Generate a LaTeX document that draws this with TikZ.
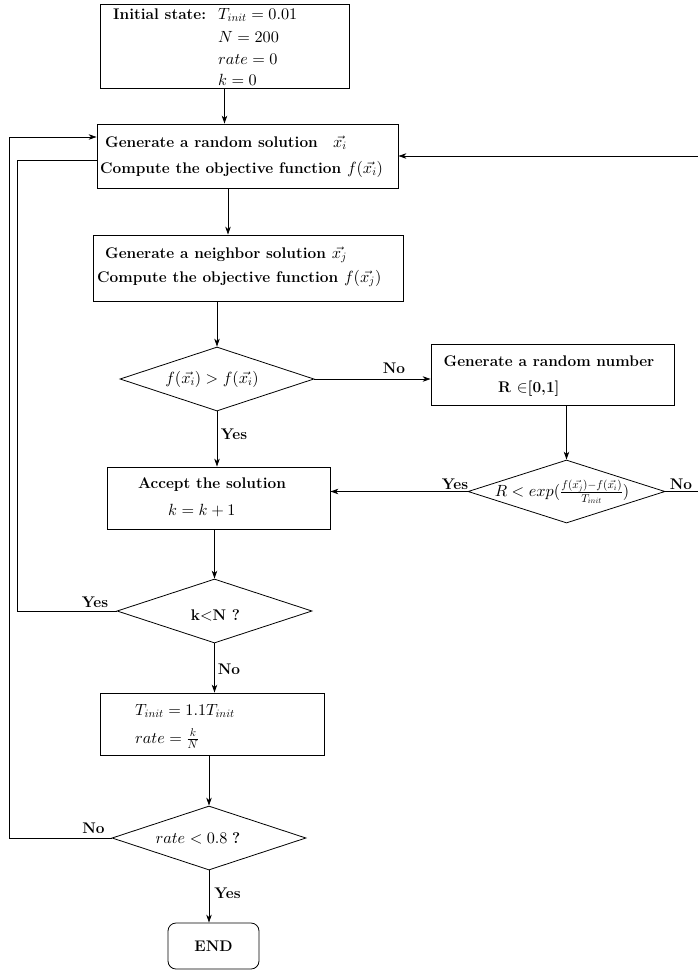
\documentclass[tikz,border=0pt]{standalone}
\DeclareFontShape{OML}{cmm}{m}{it}{<->cmmi10}{}
\DeclareFontShape{OMS}{cmsy}{m}{n}{<->cmsy10}{}
\DeclareFontShape{OT1}{cmr}{m}{n}{<->cmr10}{}
\DeclareMathSizes{15.4}{16.2}{11.3}{8.1}
\usetikzlibrary{shapes.geometric,arrows.meta}
\begin{document}
\begin{tikzpicture}[x=1pt,y=-1pt,
  every node/.style={font=\fontsize{15.4}{18}\selectfont, inner sep=0pt},
  proc/.style={draw, rectangle, line width=0.8pt},
  dec/.style={draw, diamond, line width=0.8pt},
  endbox/.style={draw, rectangle, rounded corners=8pt, line width=0.8pt},
  line/.style={line width=0.8pt},
  arr/.style={line, -{Stealth[length=8pt,width=5.5pt,inset=2.5pt]}},
  lbl/.style={font=\fontsize{15.4}{18}\selectfont\bfseries, anchor=base},
]
\useasboundingbox (0,0) rectangle (697,972);

% shapes
\node[proc, minimum width=249pt, minimum height=84pt] (box1) at (224.5,46) {};
\node[proc, minimum width=301pt, minimum height=64pt] (box2) at (247.5,156) {};
\node[proc, minimum width=310pt, minimum height=66pt] (box3) at (248,268) {};
\node[dec, minimum width=194pt, minimum height=64pt] (d1) at (217,379) {};
\node[proc, minimum width=243pt, minimum height=61pt] (box4) at (552.5,374.5) {};
\node[dec, minimum width=197pt, minimum height=63pt] (d2) at (566.5,491.5) {};
\node[proc, minimum width=223pt, minimum height=62pt] (acc) at (218.5,498) {};
\node[dec, minimum width=195pt, minimum height=64pt] (d3) at (214.5,611) {};
\node[proc, minimum width=224pt, minimum height=62pt] (boxT) at (212,724) {};
\node[dec, minimum width=194pt, minimum height=64pt] (d4) at (209,838) {};
\node[endbox, minimum width=91pt, minimum height=46pt] (endn) at (213.5,946) {};

% texts
\node[anchor=base west] (t0) at (113,19) {\bfseries Initial state:};
\node[anchor=base west] (t1) at (218,19) {$T_{init}=0.01$};
\node[anchor=base west] (t2) at (218,42) {$N=200$};
\node[anchor=base west] (t3) at (218,64) {$rate=0$};
\node[anchor=base west] (t4) at (218,85) {$k=0$};

\node[anchor=base west] (g1) at (105,147) {\bfseries Generate a random solution\quad$\vec{x_i}$};
\node[anchor=base west] (g2) at (100,173) {\bfseries Compute the objective function $f(\vec{x_i})$};

\node[anchor=base west] (h1) at (105,258) {\bfseries Generate a neighbor solution $\vec{x_j}$};
\node[anchor=base west] (h2) at (97,282) {\bfseries Compute the objective function $f(\vec{x_j})$};

\node (q1) at (212,379) {$f(\vec{x_i})>f(\vec{x_i})$};

\node[anchor=base] (r1) at (549,366) {\bfseries Generate a random number};
\node[anchor=base west] (r2) at (498,392) {\bfseries R $\in$[0,1]};

\node (q2) at (562,492) {$R<exp(\frac{f(\vec{x_j})-f(\vec{x_i})}{T_{init}})$};

\node[anchor=base] (a1) at (212,488) {\bfseries Accept the solution};
\node[anchor=base west] (a2) at (168,515) {$k=k+1$};

\node (q3) at (215.5,615) {\bfseries k$<$N ?};

\node[anchor=base west] (s1) at (135,715) {$T_{init}=1.1T_{init}$};
\node[anchor=base west] (s2) at (135,743) {$rate=\frac{k}{N}$};

\node (q4) at (198,838) {$rate<0.8$ \textbf{?}};

\node (e1) at (endn.center) {\bfseries END};

% connectors
\coordinate (c23) at (228,0);
\coordinate (rt) at (700,0);
\coordinate (l1) at (17,160);
\coordinate (l2) at (9.5,137);

\draw[arr] (box1.south) -- (box1.south |- box2.north);
\draw[arr] (box2.south -| c23) -- (box3.north -| c23);
\draw[arr] (box3.south -| d1.north) -- (d1.north);
\draw[arr] (d1.east) -- (d1.east -| box4.west);
\draw[arr] (box4.south -| d2.north) -- (d2.north);
\draw[arr] (d2.west) -- (d2.west -| acc.east);
\draw[arr] (d2.east) -- (d2.east -| rt) -- (rt |- box2.east) -- (box2.east);
\draw[arr] (d1.south) -- (d1.south |- acc.north);
\draw[arr] (acc.south -| d3.north) -- (d3.north);
\draw[line] (d3.west) -- (d3.west -| l1) -- (l1) -- (l1 -| box2.west);
\draw[arr] (d3.south) -- (d3.south |- boxT.north);
\draw[arr] (boxT.south -| d4.north) -- (d4.north);
\draw[arr] (d4.west) -- (d4.west -| l2) -- (l2) -- (l2 -| box2.west);
\draw[arr] (d4.south) -- (d4.south |- endn.north);

% labels
\node[lbl] (n1) at (394,373) {No};
\node[lbl] (y1) at (234,439) {Yes};
\node[lbl] (y2) at (455,489) {Yes};
\node[lbl] (n2) at (681,489) {No};
\node[lbl] (y3) at (95,607) {Yes};
\node[lbl] (n3) at (229,674) {No};
\node[lbl] (n4) at (93.5,833) {No};
\node[lbl] (y4) at (227.5,898) {Yes};
\end{tikzpicture}
\end{document}
